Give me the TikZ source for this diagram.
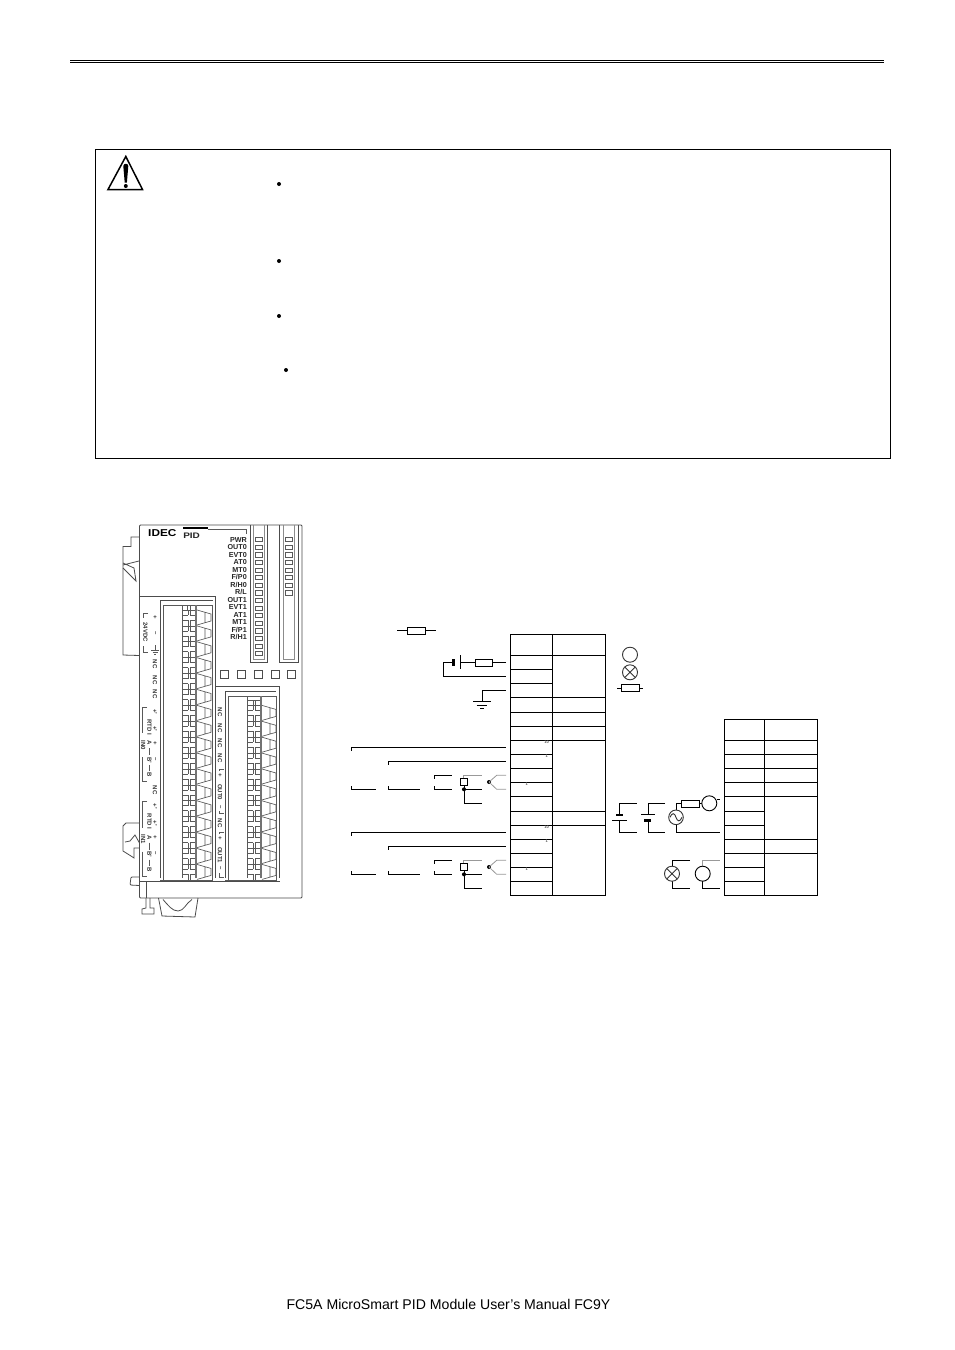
\documentclass[tikz,border=0pt]{standalone}
\usepackage{fontspec}
\setmainfont{Liberation Sans}
\tikzset{
  wire/.style={line width=0.9pt,black},
  gwire/.style={line width=0.8pt,black!40},
  tbl/.style={line width=1pt,black},
  body/.style={line width=0.8pt,black!70},
  thin part/.style={line width=0.65pt,black!65},
  ledlbl/.style={font=\bfseries\fontsize{7.2}{7.2}\selectfont,anchor=east,inner sep=0pt,text=black!85},
  rotlbl/.style={font=\bfseries\fontsize{6}{6}\selectfont,rotate=-90,inner sep=0pt,text=black!80},
  sym/.style={line width=0.9pt,black!80,fill=white},
  tiny mark/.style={font=\bfseries\fontsize{4}{4}\selectfont,inner sep=0pt,text=black!65}
}
\begin{document}
\begin{tikzpicture}[x=1pt,y=-1pt]
\useasboundingbox[fill=white] (0,0) rectangle (954,1350);
% header rule
\draw[line width=0.7pt] (70,60.3) -- (884,60.3);
\draw[line width=1.4pt] (70,62.6) -- (884,62.6);
% warning box
\draw[line width=0.9pt] (95.5,149.5) rectangle (890.5,458.5);
\draw[line width=1.5pt,line join=miter] (125.8,156.5) -- (142.5,189.5) -- (108,189.5) -- cycle;
\fill (123.3,166) .. controls (123.5,163) and (128.1,163) .. (128.3,166) -- (126.9,182.5) -- (124.7,182.5) -- cycle;
\fill (125.8,186) circle (2);
\foreach \bx/\by in {279/184,279/261,279/316,286/370} \fill (\bx,\by) circle (2);
% module body
\draw[body,rounded corners=1pt] (139.5,525) -- (302,525) -- (302,898) -- (139.5,898) -- cycle;
\draw[body] (139.5,596) -- (215,596) -- (215,686.5) -- (279,686.5) -- (279,878);
\draw[body] (139.5,881.7) -- (279.5,881.7);
\draw[body] (146,881.7) -- (146,898);
\draw[body] (215,686.5) -- (215,878);
% din clips
\draw[body] (139.5,537) -- (131,537) -- (131,546.5) -- (123,546.5) -- (123,655) -- (139.5,655.5);
\draw[body] (123,565) -- (139,561) (123,563) -- (134,568) -- (136,581) -- (123,568);
\draw[body] (139.5,823) -- (126,823) -- (123,826) -- (123,851) -- (131,856) -- (134,858) -- (134,848) -- (139.5,848);
\draw[body] (125,842) -- (130,841) -- (135,835) -- (139.5,843);
\draw[body,rounded corners=1pt] (139.5,877) -- (131,877) -- (130,885) -- (139.5,885.5);
\draw[body] (146,898) -- (146,908) -- (142,909) -- (142,914) -- (154,914) -- (154,908) -- (150,908) -- (150,898);
\draw[body] (158.5,898) -- (162,916) -- (195,917) -- (198,898);
\draw[body] (163,899.5) .. controls (168,905) and (172,911) .. (178,911) .. controls (184,911) and (186,903) .. (192,899.5);
% LED strips
\draw[body] (250,525) -- (250,662) -- (267,662) -- (267,525);
\draw[body,black!45] (253,525) -- (253,659) -- (264,659) -- (264,525);
\draw[body] (279.5,525) -- (279.5,662) -- (298,662) -- (298,525);
\draw[body,black!45] (283,525) -- (283,659) -- (294,659) -- (294,525);
\foreach \i in {0,...,15} \draw[thin part] (255,{537.5+7.6*\i}) rectangle (262,{537.5+7.6*\i+4.2});
\foreach \i in {0,...,7} \draw[thin part] (285,{537.5+7.6*\i}) rectangle (292,{537.5+7.6*\i+4.2});
\foreach \sx in {220,237,254,271,287} \draw[body] (\sx,670) rectangle +(8.3,8.3);
% LED labels
\foreach \t [count=\i from 0] in {PWR,OUT0,EVT0,AT0,MT0,F/P0,R/H0,R/L,OUT1,EVT1,AT1,MT1,F/P1,R/H1}
  \node[ledlbl] (led\i) at (247,{540+7.46*\i}) {\t};
\node[font=\bfseries\fontsize{10}{10}\selectfont,anchor=west,inner sep=0pt,xscale=1.18] (idec) at (148,533) {IDEC};
\node[font=\bfseries\fontsize{8}{8}\selectfont,anchor=west,inner sep=0pt,xscale=1.25,text=black!85] (pid) at (183,535.5) {PID};
\draw[line width=1.2pt] (183,528) -- (208,528);
\draw[thin part] (208,529) -- (246,529) -- (246,534);
% terminal blocks
\draw[body] (160,878) -- (160,600) -- (212.5,600);
\draw[thin part] (163,880) -- (163,605) -- (212,605) -- (212,880) -- (160,880);
\draw[body] (225,878) -- (225,691.5) -- (276,691.5);
\draw[thin part] (228,880) -- (228,696) -- (276,696) -- (276,880) -- (225,880);
\draw[line width=1.6pt,black!55] (196,605) -- (196,878);
\draw[line width=1.6pt,black!55] (260.8,696) -- (260.8,878);
\draw[thin part] (182,605) -- (182,878) (247,696) -- (247,878);
\newcommand{\termrow}[2]{%
  \draw[thin part] (#1,#2) -- ++(13,0)
    (#1,#2+5) -- ++(6,0) (#1+8,#2+5) -- ++(5,0)
    (#1,#2+10) -- ++(6,0) (#1+8,#2+10) -- ++(5,0)
    (#1+6,#2) -- ++(0,5) (#1+8,#2) -- ++(0,5)
    (#1+6,#2+10) -- ++(0,5.9) (#1+8,#2+10) -- ++(0,5.9);
  \draw[thin part] (#1+15,#2) -- (#1+29,#2+4) -- (#1+29,#2+11) -- (#1+15,#2+15)
    (#1+23,#2+2.5) -- (#1+23,#2+12.5);
}
\foreach \k in {0,...,16} {\pgfmathsetmacro{\ry}{610+15.9*\k}\termrow{182}{\ry}}
\foreach \k in {6,...,16} {\pgfmathsetmacro{\ry}{610+15.9*\k}\termrow{247}{\ry}}
\draw[thin part] (182,605.5) -- (195,605.5) (187,605.5) -- (187,610) (190,605.5) -- (190,610);
\draw[thin part] (247,700) -- (260,700) (253,700) -- (253,705) (255,700) -- (255,705);
% rotated labels, left column
\node[rotlbl] (l24) at (145.5,632) {24VDC};
\draw[thin part] (148,613) -- (143,613) -- (143,618);
\draw[thin part] (143,646) -- (143,652) -- (148,652);
\foreach \t/\ly [count=\i] in {+/617,--/633,NC/664,NC/680,NC/694,NC/790} \node[rotlbl] (a\i) at (155,\ly) {\t};
% earth mark (no family has the glyph)
\draw[thin part] (155,645) -- (155,650) (151,650) -- (159,650) (152.5,652) -- (157.5,652) (154,654) -- (156,654);
% IN0 / IN1 groups
\foreach \dy/\nm [count=\g] in {0/IN0,94.5/IN1} {
  \node[rotlbl] (rtd\g) at (149.5,{727+\dy}) {RTD I};
  \node[rotlbl] (in\g) at (143.3,{745+\dy}) {\nm};
  \node[rotlbl] (p\g) at (155,{712+\dy}) {+'};
  \node[rotlbl] (q\g) at (155,{729+\dy}) {+'};
  \node[rotlbl] (r\g) at (155,{743+\dy}) {+};
  \node[rotlbl] (s\g) at (155,{759+\dy}) {--};
  \node[rotlbl] (ca\g) at (149.5,{743+\dy}) {A};
  \node[rotlbl] (cb\g) at (149.5,{760+\dy}) {B'};
  \node[rotlbl] (cc\g) at (149.5,{775+\dy}) {B};
  \draw[thin part] (149.5,{748+\dy}) -- (149.5,{755+\dy}) (149.5,{765+\dy}) -- (149.5,{771+\dy});
  \draw[thin part] (147,{707+\dy}) -- (142.5,{707+\dy}) -- (142.5,{733+\dy});
  \draw[thin part] (142.5,{757+\dy}) -- (142.5,{781.5+\dy}) -- (147,{781.5+\dy});
}
% middle column
\foreach \t/\ly [count=\i] in {NC/712,NC/728,NC/743,NC/758,+/775,OUT0/792,--/807,NC/823,+/838,OUT1/855,--/868}
  \node[rotlbl] (m\i) at (220,\ly) {\t};
\draw[thin part] (224,769) -- (219,769) -- (219,771);
\draw[thin part] (219,811) -- (219,813) -- (224,813);
\draw[thin part] (224,832) -- (219,832) -- (219,834);
\draw[thin part] (219,873) -- (219,877) -- (224,877);
% table 1
\draw[tbl] (510.5,634) rectangle (605.5,895.3);
\draw[tbl] (552.5,634) -- (552.5,895.3);
\foreach \ty in {655.3,697.3,712.3,726.3,740.3,811.3,825.3} \draw[tbl] (510.5,\ty) -- (605.5,\ty);
\foreach \ty in {669.3,683.3,754.3,768.3,782.3,796.3,839.3,853.3,867.3,881.3} \draw[tbl] (510.5,\ty) -- (552.5,\ty);
\node[tiny mark] (ta) at (546.7,742.5) {10};
\node[tiny mark] (tb) at (546.7,756.5) {1};
\node[tiny mark] (tc) at (526.7,784.5) {1};
\node[tiny mark] (td) at (546.7,827.5) {10};
\node[tiny mark] (te) at (546.7,841.5) {1};
\node[tiny mark] (tf) at (526.7,869.5) {1};
% table 2
\draw[tbl] (724.3,719.3) rectangle (817.3,895.3);
\draw[tbl] (764.3,719.3) -- (764.3,895.3);
\foreach \ty in {740.3,754.3,768.3,782.3,796.3,839.3,853.3} \draw[tbl] (724.3,\ty) -- (817.3,\ty);
\foreach \ty in {811.3,825.3,867.3,881.3} \draw[tbl] (724.3,\ty) -- (764.3,\ty);
% resistor legend
\draw[wire] (397,630.5) -- (436,630.5);
\draw[wire,fill=white] (407.3,627.3) rectangle (425.7,634.3);
% battery + resistor
\draw[wire] (506,662.3) -- (460,662.3);
\draw[wire,fill=white] (475,659.3) rectangle (492.7,666.3);
\draw[wire] (460,655) -- (460,669.3);
\draw[line width=2.8pt] (453.3,659) -- (453.3,665.7);
\draw[wire] (453,662.3) -- (443.3,662.3) -- (443.3,676.3) -- (506,676.3);
% ground
\draw[wire] (505.7,690.3) -- (482.3,690.3) -- (482.3,701);
\draw[wire] (473.3,701) -- (490.7,701) (476.7,705) -- (487.3,705) (480,708.7) -- (484,708.7);
% legend symbols
\draw[sym] (630,654.7) circle (7.5);
\draw[sym] (630,672.3) circle (7.5);
\draw[sym] (624.7,667) -- (635.3,677.6) (624.7,677.6) -- (635.3,667);
\draw[wire] (617.3,688) -- (642.7,688);
\draw[wire,fill=white] (621.7,684.3) rectangle (639.7,691.7);
% sensor groups
\foreach \o in {0,85} {
  \draw[wire] (505.7,{747.3+\o}) -- (351.7,{747.3+\o}) -- (351.7,{750.7+\o});
  \draw[wire] (505.7,{761.3+\o}) -- (388.3,{761.3+\o}) -- (388.3,{765+\o});
  \draw[wire] (351.7,{786+\o}) -- (351.7,{789.3+\o}) -- (375.7,{789.3+\o});
  \draw[wire] (388.3,{786+\o}) -- (388.3,{789.3+\o}) -- (420,{789.3+\o});
  \draw[wire] (434.3,{778.7+\o}) -- (434.3,{775.3+\o}) -- (452,{775.3+\o});
  \draw[wire] (434.3,{786+\o}) -- (434.3,{789.3+\o}) -- (452,{789.3+\o});
  \draw[gwire] (463.3,{778+\o}) -- (463.3,{775.3+\o}) -- (481.7,{775.3+\o});
  \draw[wire] (464.2,{785.7+\o}) -- (464.2,{803.3+\o}) -- (481.7,{803.3+\o});
  \draw[wire] (461.5,{789.3+\o}) -- (481.7,{789.3+\o});
  \draw[wire,fill=white] (460.3,{778.3+\o}) rectangle (467.7,{785.7+\o});
  \fill (464,{789.3+\o}) circle (2);
  \fill (489,{782+\o}) circle (2);
  \draw[gwire] (489,{782+\o}) -- (496.7,{775.3+\o}) -- (506,{775.3+\o});
  \draw[gwire] (489,{782+\o}) -- (496.7,{789.3+\o}) -- (506,{789.3+\o});
}
% battery 1 and 2
\draw[wire] (636.7,803.3) -- (619.3,803.3) -- (619.3,814.3);
\draw[line width=1.8pt] (616,815) -- (623.3,815);
\draw[wire] (612,820.3) -- (626.7,820.3);
\draw[wire] (619.3,820.3) -- (619.3,832.3) -- (636.7,832.3);
\draw[wire] (665,803.3) -- (648.3,803.3) -- (648.3,814.7);
\draw[wire] (641,814.7) -- (655,814.7);
\draw[line width=2.6pt] (644.3,820.3) -- (651,820.3);
\draw[wire] (648.3,820.3) -- (648.3,832.3) -- (665,832.3);
% AC source
\draw[wire] (676,810) -- (676,803.3) -- (681,803.3);
\draw[wire] (699.3,803.3) -- (702,803.3);
\draw[wire,fill=white] (681,800) rectangle (699.3,807.3);
\draw[wire,black!80,fill=white] (676,817.3) circle (7.3);
\draw[wire,black!80] (670,817.3) .. controls (672,812.5) and (674.5,812.5) .. (676,817.3) .. controls (677.5,822) and (680,822) .. (682,817.3);
\draw[wire,fill=white] (709.3,803.3) circle (7.5);
\draw[wire] (716.7,799.3) -- (720,799.3);
\draw[wire] (676,824.6) -- (676,832.3) -- (720,832.3);
% lamp and load
\draw[wire] (690,860) -- (672,860) -- (672,866.2);
\draw[wire] (672,881.2) -- (672,888.3) -- (690,888.3);
\draw[sym] (672,873.7) circle (7.5);
\draw[sym] (666.7,868.4) -- (677.3,879) (666.7,879) -- (677.3,868.4);
\draw[gwire] (702.7,866.2) -- (702.7,860) -- (720,860);
\draw[wire] (702.7,881.2) -- (702.7,888.3) -- (720,888.3);
\draw[wire,fill=white] (702.7,873.7) circle (7.5);
% footer
\node[font=\fontsize{14.1}{14.1}\selectfont,inner sep=0pt] (footer) at (448.5,1304.5) {FC5A MicroSmart PID Module User’s Manual FC9Y};
\end{tikzpicture}
\end{document}
